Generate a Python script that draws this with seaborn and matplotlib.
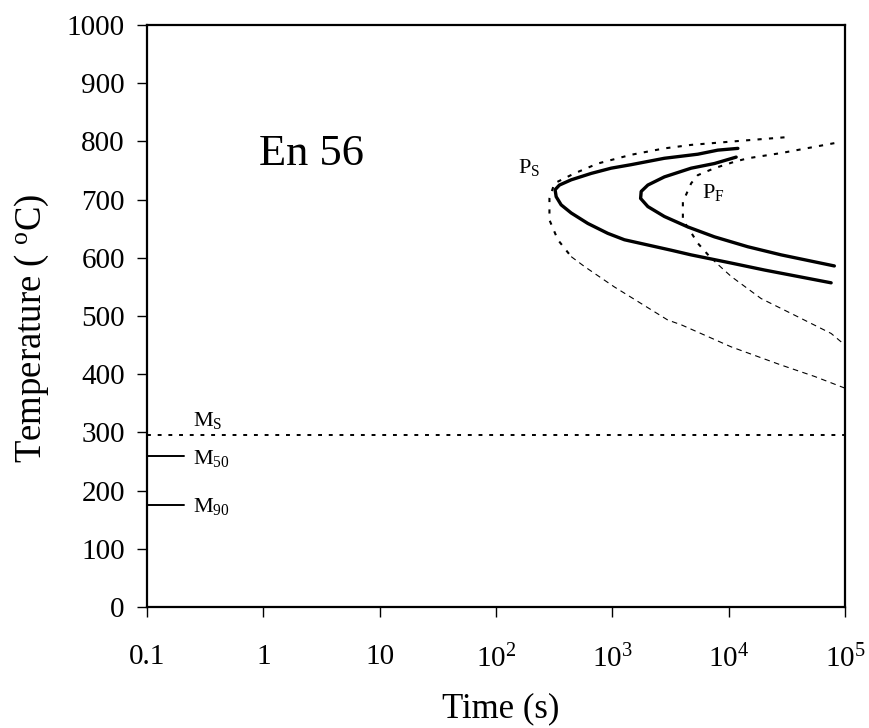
import numpy as np
import pandas as pd
import matplotlib
matplotlib.use("Agg")
import matplotlib.pyplot as plt
import seaborn as sns

# ---- data ----
# measured pearlite start (solid, outer)
ps_start_t = [12000, 8070, 5430, 2800, 1450, 977, 658, 443, 351, 322, 329, 363, 443, 616, 914,
              1270, 2020, 3210, 4760, 10500, 20300, 39300, 76000]
ps_start_T = [788, 785, 778, 771, 760, 754, 745, 734, 725, 717, 705, 691, 677, 659, 642,
              631, 622, 613, 605, 591, 579, 568, 557]

# measured pearlite finish (solid, inner)
pf_end_t = [11600, 7550, 4760, 2800, 2020, 1770, 1750, 2020, 2800, 4460, 7550, 14600, 28300, 81000]
pf_end_T = [773, 762, 754, 739, 725, 714, 702, 688, 671, 653, 636, 619, 605, 586]

# calculated pearlite start (dotted upper part, thin dashed tail)
ps_calc_up_t = [30200, 14600, 4760, 2800, 1450, 750, 472, 318, 288, 288, 340, 443]
ps_calc_up_T = [807, 802, 794, 788, 777, 762, 745, 728, 702, 665, 631, 602]
ps_calc_low_t = [443, 576, 1040, 3000, 3900, 10500, 28000, 55000, 100000]
ps_calc_low_T = [602, 585, 550, 493, 485, 447, 416, 396, 376]

# calculated pearlite finish (dotted upper part, thin dashed tail)
pf_calc_up_t = [81000, 28300, 14600, 11200, 7550, 5430, 4760, 4040, 4040, 4600, 5430, 7080]
pf_calc_up_T = [797, 780, 771, 765, 754, 742, 728, 696, 665, 648, 625, 599]
pf_calc_low_t = [7080, 10500, 19000, 39000, 76000, 100000]
pf_calc_low_T = [599, 568, 530, 499, 470, 450]

ms_T = 295
m50_T = 260
m90_T = 175
mline_t = [0.1, 0.207]
ms_t = [0.1, 100000]

xtick_vals = [0.1, 1, 10, 100, 1000, 10000, 100000]
xtick_labels = ["0.1", "1", "10", r"$\mathregular{10^{2}}$", r"$\mathregular{10^{3}}$",
                r"$\mathregular{10^{4}}$", r"$\mathregular{10^{5}}$"]
ytick_vals = list(range(0, 1001, 100))

sns.set_theme(style="white")
plt.rcParams["font.family"] = ["Liberation Serif", "DejaVu Serif"]
plt.rcParams["mathtext.fontset"] = "custom"
plt.rcParams["mathtext.rm"] = "Liberation Serif"
plt.rcParams["mathtext.it"] = "Liberation Serif:italic"

fig = plt.figure(figsize=(8.7, 7.28), dpi=100)
ax = fig.add_axes([147/870, 1-607/728, (845-147)/870, (607-25)/728])

def curve(t, T, **kw):
    df = pd.DataFrame({"t": t, "T": T})
    sns.lineplot(data=df, x="t", y="T", sort=False, estimator=None, ax=ax, color="black", **kw)

curve(ps_start_t, ps_start_T, linewidth=2.4)
curve(pf_end_t, pf_end_T, linewidth=2.4)
curve(ps_calc_up_t, ps_calc_up_T, linewidth=1.5, linestyle=(0, (2, 3.5)))
curve(ps_calc_low_t, ps_calc_low_T, linewidth=0.8, linestyle=(0, (5, 4)))
curve(pf_calc_up_t, pf_calc_up_T, linewidth=1.5, linestyle=(0, (2, 3.5)))
curve(pf_calc_low_t, pf_calc_low_T, linewidth=0.8, linestyle=(0, (5, 4)))
curve(ms_t, [ms_T, ms_T], linewidth=1.4, linestyle=(0, (2, 3.5)))
curve(mline_t, [m50_T, m50_T], linewidth=1.4)
curve(mline_t, [m90_T, m90_T], linewidth=1.4)

ax.set_xscale("log")
ax.set_xlim(0.1, 1e5)
ax.set_ylim(0, 1000)
ax.set_xticks(xtick_vals)
ax.set_xticklabels(xtick_labels)
ax.minorticks_off()
ax.set_yticks(ytick_vals)
ax.tick_params(axis="both", which="major", direction="out", length=7, width=1,
               color="black", labelsize=21, labelcolor="black")
ax.tick_params(axis="x", pad=20)
ax.tick_params(axis="y", pad=9)
ax.tick_params(bottom=True, left=True)
for s in ax.spines.values():
    s.set_color("black")
    s.set_linewidth(1.6)

ax.set_xlabel("Time (s)", fontsize=25, color="black")
ax.xaxis.set_label_coords(0.507, -0.146)
ax.xaxis.label.set_va("top")
ax.set_ylabel(r"Temperature ( $\mathregular{^{o}}$C)", fontsize=26.5, color="black")
ax.yaxis.set_label_coords(-0.137, 0.479)

ax.text(0.92, 759, "En 56", fontsize=32, ha="left", va="baseline", color="black")
ax.text(193, 756, r"P$\mathregular{_{S}}$", fontsize=16, ha="center", va="center", color="black")
ax.text(7400, 712, r"P$\mathregular{_{F}}$", fontsize=16, ha="center", va="center", color="black")
ax.text(0.25, 321, r"M$\mathregular{_{S}}$", fontsize=16, ha="left", va="center", color="black")
ax.text(0.25, 256, r"M$\mathregular{_{50}}$", fontsize=16, ha="left", va="center", color="black")
ax.text(0.25, 172, r"M$\mathregular{_{90}}$", fontsize=16, ha="left", va="center", color="black")

fig.savefig("out.png", dpi=100)
